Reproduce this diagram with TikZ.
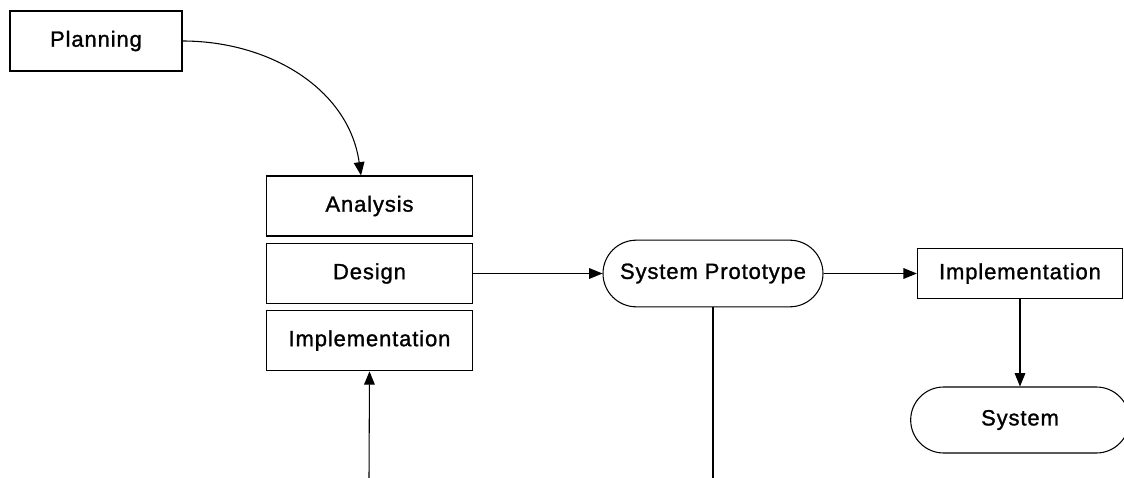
\documentclass[tikz,border=0pt]{standalone}
\usepackage{fontspec}
\setmainfont{Liberation Sans}[LetterSpace=4, FakeBold=1.2]
\usepackage{tikz}
\usetikzlibrary{arrows.meta,shapes.misc}

\tikzset{
  phase/.style={draw, rectangle, line width=0.8pt, font=\fontsize{16.5}{19}\selectfont, inner sep=0pt},
  outcome/.style={draw, rounded rectangle, line width=0.8pt, font=\fontsize{16.5}{19}\selectfont, inner sep=0pt},
  flow/.style={line width=0.8pt, -{Triangle[length=10pt,width=8pt]}}
}

\begin{document}
\begin{tikzpicture}[x=0.75pt, y=-0.75pt]
  \useasboundingbox (0,0) rectangle (1124,478);
  % left column
  \node[phase, minimum width=129pt, minimum height=45pt] (plan) at (96,41) {Planning};
  \node[phase, minimum width=155pt, minimum height=45pt] (ana) at (369.5,206) {Analysis};
  \node[phase, minimum width=155pt, minimum height=45.5pt] (des) at (369.5,273.5) {Design};
  \node[phase, minimum width=155pt, minimum height=45.5pt] (imp) at (369.5,340.5) {Implementation};
  % prototype and the system
  \node[outcome, minimum width=165pt, minimum height=50pt] (proto) at (713,273.5) {System Prototype};
  \node[phase, minimum width=154pt, minimum height=37pt] (impl) at (1020,273.5) {Implementation};
  \node[outcome, minimum width=164pt, minimum height=49.5pt] (sys) at (1020,420) {System};
  \coordinate (feed) at (369,478);
  \coordinate (drop) at (713,478);
  % connectors
  \draw[flow] (plan.east) to[out=0, in=98] (ana.north -| 361,0);
  \draw[flow] (des.east) -- (proto.west);
  \draw[flow] (feed) -- (imp.south);
  \draw[line width=0.8pt] (proto.south) -- (drop);
  \draw[flow] (proto.east) -- (impl.west);
  \draw[flow] (impl.south) -- (sys.north);
\end{tikzpicture}
\end{document}
